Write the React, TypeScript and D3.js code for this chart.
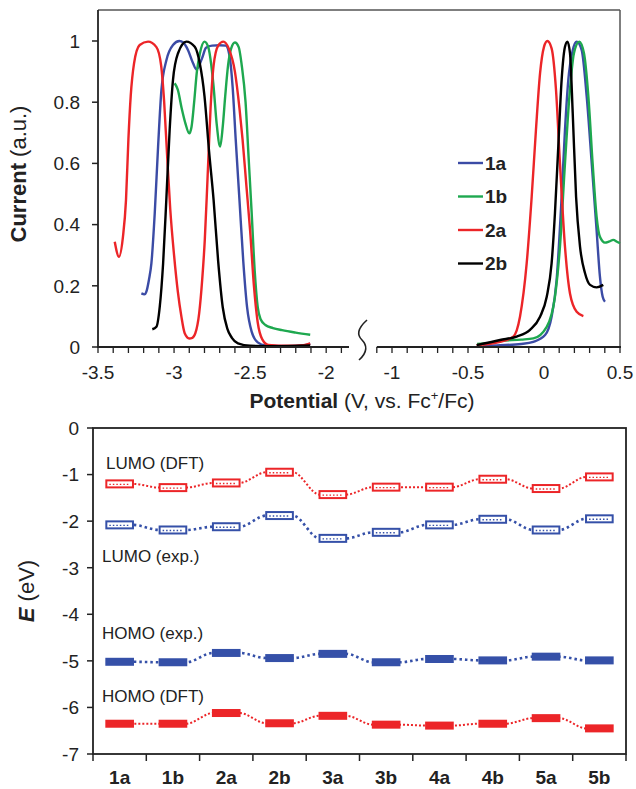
import React from 'react';
import * as d3 from 'd3';

type P = [number, number];

// ---- Top chart data (potential V, normalized current) ----
const c1aLeft: P[] = [[-3.215,0.175],[-3.195,0.172],[-3.182,0.181],[-3.165,0.22],[-3.149,0.273],[-3.127,0.437],[-3.105,0.655],[-3.083,0.84],[-3.05,0.938],[-3.007,0.987],[-2.965,1.0],[-2.94,0.995],[-2.908,0.97],[-2.875,0.927],[-2.853,0.907],[-2.835,0.92],[-2.815,0.945],[-2.79,0.978],[-2.75,0.985],[-2.7,0.986],[-2.66,0.985],[-2.635,0.95],[-2.615,0.85],[-2.595,0.68],[-2.57,0.48],[-2.545,0.28],[-2.52,0.13],[-2.49,0.05],[-2.45,0.015],[-2.4,0.005],[-2.25,0.003],[-2.15,0.005],[-2.105,0.011]];
const c1aRight: P[] = [[-0.4,0.004],[-0.289,0.006],[-0.15,0.01],[-0.07,0.017],[0.007,0.039],[0.05,0.099],[0.083,0.219],[0.116,0.491],[0.138,0.709],[0.16,0.873],[0.189,0.97],[0.215,0.998],[0.248,0.97],[0.281,0.818],[0.314,0.6],[0.346,0.382],[0.368,0.23],[0.386,0.164],[0.401,0.148]];
const c1bLeft: P[] = [[-2.996,0.862],[-2.975,0.84],[-2.95,0.78],[-2.925,0.73],[-2.9,0.698],[-2.885,0.72],[-2.868,0.8],[-2.85,0.9],[-2.83,0.96],[-2.8,0.998],[-2.775,0.98],[-2.755,0.92],[-2.74,0.85],[-2.72,0.73],[-2.697,0.655],[-2.68,0.72],[-2.664,0.818],[-2.645,0.92],[-2.625,0.975],[-2.6,0.995],[-2.575,0.98],[-2.555,0.92],[-2.53,0.8],[-2.51,0.62],[-2.49,0.44],[-2.47,0.25],[-2.45,0.13],[-2.43,0.09],[-2.4,0.072],[-2.35,0.062],[-2.29,0.055],[-2.2,0.047],[-2.105,0.04]];
const c1bRight: P[] = [[-0.44,0.01],[-0.355,0.013],[-0.289,0.02],[-0.15,0.024],[-0.07,0.028],[0.018,0.066],[0.072,0.164],[0.105,0.328],[0.138,0.6],[0.167,0.818],[0.197,0.96],[0.232,0.998],[0.263,0.96],[0.292,0.818],[0.32,0.6],[0.346,0.426],[0.368,0.36],[0.401,0.341],[0.43,0.345],[0.456,0.35],[0.48,0.344],[0.5,0.339]];
const c2aLeft: P[] = [[-3.39,0.344],[-3.362,0.295],[-3.336,0.36],[-3.316,0.48],[-3.3,0.68],[-3.285,0.82],[-3.263,0.927],[-3.226,0.987],[-3.171,0.998],[-3.116,0.98],[-3.085,0.92],[-3.065,0.8],[-3.045,0.62],[-3.025,0.45],[-3.0,0.3],[-2.975,0.18],[-2.952,0.1],[-2.93,0.045],[-2.9,0.028],[-2.88,0.03],[-2.86,0.045],[-2.835,0.11],[-2.815,0.22],[-2.798,0.35],[-2.78,0.55],[-2.76,0.78],[-2.74,0.92],[-2.71,0.985],[-2.676,0.998],[-2.64,0.975],[-2.6,0.9],[-2.57,0.78],[-2.55,0.68],[-2.525,0.53],[-2.5,0.38],[-2.475,0.2],[-2.45,0.08],[-2.42,0.025],[-2.38,0.007],[-2.25,0.004],[-2.15,0.006],[-2.105,0.012]];
const c2aRight: P[] = [[-0.443,0.006],[-0.289,0.017],[-0.202,0.034],[-0.158,0.099],[-0.114,0.273],[-0.081,0.491],[-0.053,0.709],[-0.026,0.894],[0.0,0.981],[0.022,1.0],[0.05,0.976],[0.079,0.84],[0.105,0.6],[0.138,0.328],[0.171,0.175],[0.215,0.115],[0.259,0.101]];
const c2bLeft: P[] = [[-3.143,0.058],[-3.116,0.066],[-3.094,0.132],[-3.072,0.273],[-3.05,0.491],[-3.029,0.709],[-3.007,0.873],[-2.974,0.96],[-2.919,0.998],[-2.864,0.981],[-2.831,0.927],[-2.8,0.82],[-2.77,0.64],[-2.74,0.48],[-2.71,0.28],[-2.68,0.13],[-2.65,0.06],[-2.62,0.03],[-2.58,0.012],[-2.5,0.004],[-2.3,0.003],[-2.105,0.005]];
const c2bRight: P[] = [[-0.443,0.006],[-0.289,0.023],[-0.18,0.034],[-0.092,0.056],[-0.026,0.099],[0.018,0.164],[0.05,0.273],[0.072,0.437],[0.094,0.655],[0.116,0.873],[0.138,0.981],[0.154,0.998],[0.171,0.96],[0.189,0.764],[0.211,0.491],[0.237,0.328],[0.27,0.241],[0.303,0.203],[0.346,0.195],[0.39,0.203]];

const seriesNames = ['1a', '1b', '2a', '2b'];
const seriesColors = ['#3b4ba5', '#1ea84f', '#ec2528', '#000000'];
const leftCurves = [c1aLeft, c1bLeft, c2aLeft, c2bLeft];
const rightCurves = [c1aRight, c1bRight, c2aRight, c2bRight];
const currentTicks = [0, 0.2, 0.4, 0.6, 0.8, 1];
const leftMajor = [-3.5, -3, -2.5, -2];
const rightMajor = [-1, -0.5, 0, 0.5];

// ---- Bottom chart data (eV) ----
const compounds = ['1a', '1b', '2a', '2b', '3a', '3b', '4a', '4b', '5a', '5b'];
const lumoDFT = [-1.2, -1.28, -1.18, -0.95, -1.43, -1.27, -1.27, -1.1, -1.3, -1.05];
const lumoExp = [-2.08, -2.19, -2.12, -1.88, -2.37, -2.24, -2.08, -1.96, -2.19, -1.95];
const homoExp = [-5.02, -5.03, -4.83, -4.94, -4.85, -5.03, -4.96, -4.99, -4.91, -4.99];
const homoDFT = [-6.35, -6.35, -6.12, -6.34, -6.18, -6.37, -6.39, -6.35, -6.23, -6.45];
const energyTicks = [0, -1, -2, -3, -4, -5, -6, -7];

const RED = '#ec2528';
const BLUE = '#3550a8';
const FONT = 'Liberation Sans, Arial, sans-serif';

export default function App() {
  // top chart
  const yTop = d3.scaleLinear().domain([0, 1.1]).range([347, 10.4]);
  const xL = d3.scaleLinear().domain([-3.5, -1.85]).range([98, 349]);
  const xR = d3.scaleLinear().domain([-1.1, 0.5]).range([376.8, 620]);
  const lineL = d3.line<P>().x(d => xL(d[0])).y(d => yTop(d[1])).curve(d3.curveMonotoneX);
  const lineR = d3.line<P>().x(d => xR(d[0])).y(d => yTop(d[1])).curve(d3.curveMonotoneX);
  const minorL = d3.range(-35, -18).map(v => v / 10);
  const minorR = d3.range(-11, 6).map(v => v / 10);

  // bottom chart
  const xB = d3.scaleBand<string>().domain(compounds).range([93, 626]);
  const yB = d3.scaleLinear().domain([-7, 0]).range([754, 428]);
  const bw = xB.bandwidth() * 0.5;
  const rh = 7;
  const levelLine = (vals: number[]) => {
    const pts: P[] = [];
    compounds.forEach((c, i) => {
      const cx = (xB(c) as number) + xB.bandwidth() / 2;
      pts.push([cx - bw / 2, yB(vals[i])]);
      pts.push([cx + bw / 2, yB(vals[i])]);
    });
    return d3.line<P>().x(d => d[0]).y(d => d[1]).curve(d3.curveMonotoneX)(pts) as string;
  };

  const levels = [
    { vals: lumoDFT, color: RED, hollow: true, dash: '2,2', w: 2 },
    { vals: lumoExp, color: BLUE, hollow: true, dash: '2.5,3', w: 2.6 },
    { vals: homoExp, color: BLUE, hollow: false, dash: '2.5,3', w: 2.6 },
    { vals: homoDFT, color: RED, hollow: false, dash: '2,2', w: 2 },
  ];

  return (
    <svg width={636} height={789} style={{ position: 'absolute', left: 0, top: 0, background: '#fff' }} fontFamily={FONT}>
      <rect x={0} y={0} width={636} height={789} fill="#fff" />
      {/* ===== TOP CHART ===== */}
      <line x1={98} y1={10} x2={620} y2={10} stroke="#555" strokeWidth={1.5} />
      <line x1={620} y1={10} x2={620} y2={347} stroke="#555" strokeWidth={1.5} />
      {leftCurves.map((d, i) => (
        <path key={'l' + i} d={lineL(d) as string} fill="none" stroke={seriesColors[i]} strokeWidth={2.4} />
      ))}
      {rightCurves.map((d, i) => (
        <path key={'r' + i} d={lineR(d) as string} fill="none" stroke={seriesColors[i]} strokeWidth={2.4} />
      ))}
      {/* y axis */}
      <line x1={98} y1={10} x2={98} y2={347} stroke="#222" strokeWidth={1.8} />
      {currentTicks.map(t => (
        <g key={'yt' + t}>
          <line x1={92} x2={98} y1={yTop(t)} y2={yTop(t)} stroke="#222" strokeWidth={1.5} />
          <text x={80} y={yTop(t)} dy="0.36em" textAnchor="end" fontSize={19} fill="#222">{String(t)}</text>
        </g>
      ))}
      {/* x axis, broken */}
      <line x1={97} y1={347} x2={349} y2={347} stroke="#222" strokeWidth={1.8} />
      <line x1={376.8} y1={347} x2={621} y2={347} stroke="#222" strokeWidth={1.8} />
      {minorL.map(t => (
        <line key={'ml' + t} x1={xL(t)} x2={xL(t)} y1={347} y2={353} stroke="#222" strokeWidth={1.3} />
      ))}
      {minorR.map(t => (
        <line key={'mr' + t} x1={xR(t)} x2={xR(t)} y1={347} y2={353} stroke="#222" strokeWidth={1.3} />
      ))}
      {leftMajor.map(t => (
        <text key={'lx' + t} x={xL(t)} y={379} textAnchor="middle" fontSize={19} fill="#222">{String(t)}</text>
      ))}
      {rightMajor.map(t => (
        <text key={'rx' + t} x={xR(t)} y={379} textAnchor="middle" fontSize={19} fill="#222">{String(t)}</text>
      ))}
      <path d="M367,320 C357,329 357,335 362,340 C367,345 368,352 359,360" fill="none" stroke="#222" strokeWidth={1.6} />
      <text x={362} y={408} textAnchor="middle" fontSize={21} fill="#222">
        <tspan fontWeight="bold">Potential</tspan>
        <tspan> (V, vs. Fc</tspan>
        <tspan fontSize={13} dy={-8}>+</tspan>
        <tspan dy={8}>/Fc)</tspan>
      </text>
      <text transform="translate(26,174) rotate(-90)" textAnchor="middle" fontSize={22} fill="#222">
        <tspan fontWeight="bold">Current</tspan>
        <tspan> (a.u.)</tspan>
      </text>
      {/* legend */}
      {seriesNames.map((n, i) => (
        <g key={'lg' + n}>
          <line x1={458} x2={483} y1={163 + i * 33.5} y2={163 + i * 33.5} stroke={seriesColors[i]} strokeWidth={2.4} />
          <text x={485} y={163 + i * 33.5} dy="0.36em" fontSize={19} fontWeight="bold" fill="#222">{n}</text>
        </g>
      ))}

      {/* ===== BOTTOM CHART ===== */}
      <rect x={93} y={428} width={533} height={326} fill="none" stroke="#222" strokeWidth={1.8} />
      {energyTicks.map(t => (
        <g key={'et' + t}>
          <line x1={87} x2={93} y1={yB(t)} y2={yB(t)} stroke="#222" strokeWidth={1.5} />
          <text x={79} y={yB(t)} dy="0.36em" textAnchor="end" fontSize={19} fill="#222">{String(t)}</text>
        </g>
      ))}
      {d3.range(0, compounds.length + 1).map(i => (
        <line key={'xt' + i} x1={93 + i * xB.step()} x2={93 + i * xB.step()} y1={754} y2={761} stroke="#222" strokeWidth={1.5} />
      ))}
      {compounds.map(c => (
        <text key={'cl' + c} x={(xB(c) as number) + xB.bandwidth() / 2} y={784} textAnchor="middle" fontSize={19} fontWeight="bold" fill="#222">{c}</text>
      ))}
      {levels.map((L, li) => (
        <g key={'lv' + li}>
          <path d={levelLine(L.vals)} fill="none" stroke={L.color} strokeWidth={L.w} strokeDasharray={L.dash} />
          {compounds.map((c, i) => {
            const cx = (xB(c) as number) + xB.bandwidth() / 2;
            const cy = yB(L.vals[i]);
            return L.hollow ? (
              <g key={c}>
                <rect x={cx - bw / 2} y={cy - rh / 2} width={bw} height={rh} fill="#fff" stroke={L.color} strokeWidth={2} />
                <line x1={cx - bw / 2 + 3} x2={cx + bw / 2 - 3} y1={cy + 0.5} y2={cy + 0.5} stroke={L.color} strokeWidth={1.4} strokeDasharray="1.5,2" />
              </g>
            ) : (
              <rect key={c} x={cx - bw / 2 - 1} y={cy - rh / 2 - 0.5} width={bw + 2} height={rh + 1} fill={L.color} />
            );
          })}
        </g>
      ))}
      <text x={106} y={469} fontSize={17} fill="#222">LUMO (DFT)</text>
      <text x={102} y={562} fontSize={17} fill="#222">LUMO (exp.)</text>
      <text x={102} y={639} fontSize={17} fill="#222">HOMO (exp.)</text>
      <text x={102} y={702} fontSize={17} fill="#222">HOMO (DFT)</text>
      <text transform="translate(34,591) rotate(-90)" textAnchor="middle" fontSize={22} fill="#222">
        <tspan fontWeight="bold" fontStyle="italic">E</tspan>
        <tspan> (eV)</tspan>
      </text>
    </svg>
  );
}
